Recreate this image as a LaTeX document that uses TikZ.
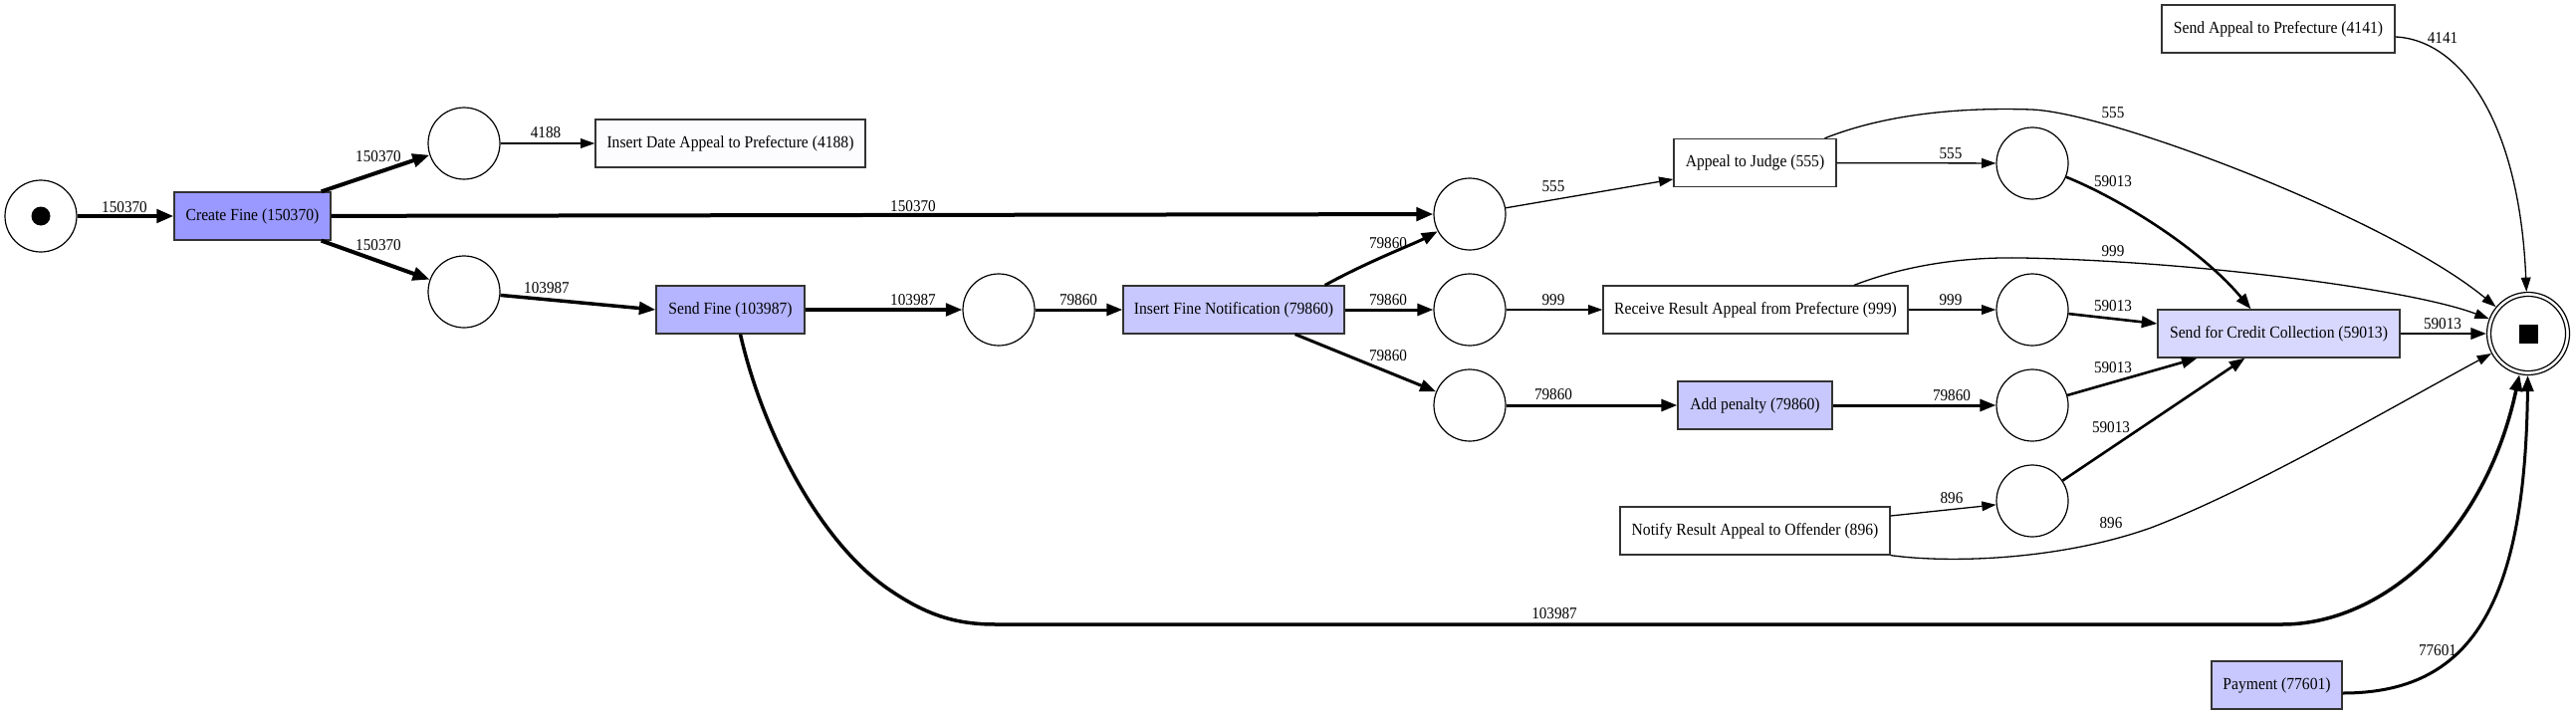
\documentclass[tikz,border=0pt]{standalone}
\usepackage{fontspec}
\setmainfont{Liberation Serif}[FakeStretch=0.92]
\usetikzlibrary{arrows.meta}
\definecolor{cfc}{HTML}{9999FF}
\definecolor{sfc}{HTML}{B4B4FF}
\definecolor{midc}{HTML}{C8C8FF}
\definecolor{sccc}{HTML}{D8D8FF}
\definecolor{idac}{HTML}{FCFCFF}
\definecolor{bord}{HTML}{333333}
\begin{document}
\begin{tikzpicture}[x=1pt,y=-1pt,
  trans/.style={draw=bord, line width=1.3pt, rectangle, minimum width=#1, minimum height=48pt, inner sep=0pt, font=\fontsize{17}{20}\selectfont},
  place/.style={draw=black, line width=1.2pt, circle, minimum size=72pt, inner sep=0pt, fill=white},
  flow/.style={line width=#1, -{Triangle[length=13pt 1, width=8pt 1.3]}},
  eA/.style={flow=4pt},
  eB/.style={flow=3.5pt},
  eC/.style={flow=3pt},
  eD/.style={flow=2.6pt},
  eT/.style={flow=1.3pt},
  lbl/.style={font=\fontsize{16.5}{19}\selectfont, inner sep=0pt},
]
\fill[white] (0,0) rectangle (2587,717);
\useasboundingbox (0,0) rectangle (2587,717);

% places
\node[place] (start) at (41,217) {};
\node[circle, fill=black, minimum size=19pt, inner sep=0pt] (starttok) at (start) {};
\node[place] (p1) at (466,144) {};
\node[place] (p2) at (466,293) {};
\node[place] (p3) at (1476,215) {};
\node[place] (p4) at (1003,311) {};
\node[place] (p5) at (1476,311) {};
\node[place] (p6) at (1476,407) {};
\node[place] (p7) at (2041,164) {};
\node[place] (p8) at (2041,311) {};
\node[place] (p9) at (2041,407) {};
\node[place] (p10) at (2041,503) {};
\node[place, minimum size=83pt] (end) at (2539,335) {};
\node[circle, draw=black, line width=1.2pt, minimum size=75pt, inner sep=0pt] (endin) at (end) {};
\node[fill=black, minimum size=19pt, inner sep=0pt] (endtok) at (end) {};

% transitions
\node[trans=157pt, fill=cfc] (CF) at (253.5,217) {Create Fine (150370)};
\node[trans=271pt, fill=idac] (IDA) at (733.5,144) {Insert Date Appeal to Prefecture (4188)};
\node[trans=149pt, fill=sfc] (SF) at (733.5,311) {Send Fine (103987)};
\node[trans=222pt, fill=midc] (IFN) at (1239,311) {Insert Fine Notification (79860)};
\node[trans=163pt, fill=white] (AJ) at (1762.5,163.5) {Appeal to Judge (555)};
\node[trans=306pt, fill=white] (RR) at (1763,311) {Receive Result Appeal from Prefecture (999)};
\node[trans=155pt, fill=midc] (AP) at (1762.5,407) {Add penalty (79860)};
\node[trans=271pt, fill=white] (NR) at (1762.5,533) {Notify Result Appeal to Offender (896)};
\node[trans=234pt, fill=white] (SAP) at (2288,29) {Send Appeal to Prefecture (4141)};
\node[trans=243pt, fill=sccc] (SCC) at (2288.5,335) {Send for Credit Collection (59013)};
\node[trans=131pt, fill=midc] (PAY) at (2286.5,688) {Payment (77601)};

% arcs
\draw[eA] (start) -- (CF);
\draw[eA] ([xshift=-10pt]CF.north east) -- (p1);
\draw[eT] (p1) -- (IDA);
\draw[eA] ([xshift=-10pt]CF.south east) -- (p2);
\draw[eB] (p2) -- (SF.west);
\draw[eA] (CF) -- (p3);
\draw[eB] (SF) -- (p4);
\draw[eC] (p4) -- (IFN);
\draw[eC] ([xshift=-20pt]IFN.north east) .. controls (1375,262) and (1420,245) .. (p3);
\draw[eC] (IFN) -- (p5);
\draw[eC] ([xshift=-50pt]IFN.south east) -- (p6);
\draw[eT] (p3) -- ([yshift=-16.5pt]AJ.west);
\draw[eT] (p5) -- (RR);
\draw[eC] (p6) -- (AP);
\draw[eT] (AJ) -- (p7);
\draw[eT] (RR) -- (p8);
\draw[eC] (AP) -- (p9);
\draw[eT] ([yshift=15pt]NR.east) -- (p10);
\draw[eD] (p7) .. controls (2130,200) and (2210,250) .. ([xshift=-28pt]SCC.north);
\draw[eD] (p8) -- ([yshift=10pt]SCC.west);
\draw[eD] (p9) -- ([xshift=-82pt]SCC.south);
\draw[eD] (p10) -- ([xshift=-34pt]SCC.south);
\draw[eD] (SCC) -- (end);
\draw[eT] ([xshift=70pt]AJ.north) .. controls (1900,112) and (1980,108) .. (2040,110) .. controls (2120,113) and (2400,220) .. (end);
\draw[eT] ([xshift=99pt]RR.north) .. controls (1920,264) and (1980,258) .. (2030,259) .. controls (2200,262) and (2420,290) .. (end);
\draw[eT] (NR.south east) .. controls (1960,566) and (2070,562) .. (2160,530) .. controls (2260,492) and (2400,410) .. (end);
\draw[eT] ([yshift=-8pt]SAP.east) .. controls (2470,40) and (2530,120) .. (end);
\draw[eB] ([xshift=10pt]SF.south) .. controls (765,430) and (820,540) .. (890,590) .. controls (930,618) and (960,627) .. (1000,627) -- (2292,627) .. controls (2390,627) and (2495,540) .. (end);
\draw[eC] ([yshift=-8pt]PAY.east) .. controls (2480,696) and (2536,610) .. (end);

% labels
\node[lbl] (l1) at (125,208) {150370};
\node[lbl] (l2) at (380,157) {150370};
\node[lbl] (l3) at (548,133) {4188};
\node[lbl] (l4) at (380,246) {150370};
\node[lbl] (l5) at (549,289) {103987};
\node[lbl] (l6) at (917,207) {150370};
\node[lbl] (l7) at (917,301) {103987};
\node[lbl] (l8) at (1083,301) {79860};
\node[lbl] (l9) at (1394,244) {79860};
\node[lbl] (l10) at (1394,301) {79860};
\node[lbl] (l11) at (1394,357) {79860};
\node[lbl] (l12) at (1560,187) {555};
\node[lbl] (l13) at (1560,301) {999};
\node[lbl] (l14) at (1560,396) {79860};
\node[lbl] (l15) at (2453,38) {4141};
\node[lbl] (l16) at (2122,113) {555};
\node[lbl] (l17) at (1959,154) {555};
\node[lbl] (l18) at (2122,182) {59013};
\node[lbl] (l19) at (2122,252) {999};
\node[lbl] (l20) at (1959,301) {999};
\node[lbl] (l21) at (2122,307) {59013};
\node[lbl] (l22) at (2453,325) {59013};
\node[lbl] (l23) at (2122,369) {59013};
\node[lbl] (l24) at (1960,397) {79860};
\node[lbl] (l25) at (2120,429) {59013};
\node[lbl] (l26) at (1960,500) {896};
\node[lbl] (l27) at (2120,525) {896};
\node[lbl] (l28) at (2448,653) {77601};
\node[lbl] (l29) at (1561,616) {103987};
\end{tikzpicture}
\end{document}
